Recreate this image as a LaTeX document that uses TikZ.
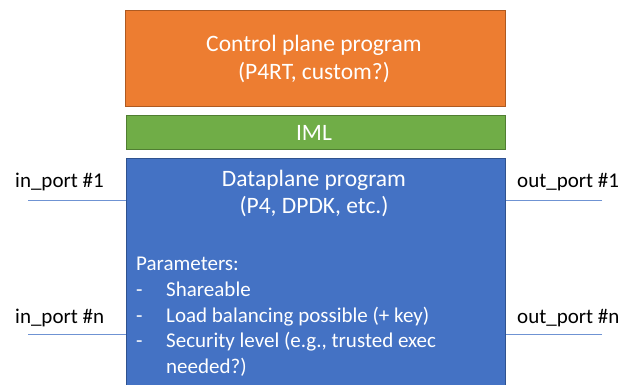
\documentclass[tikz,border=0pt]{standalone}
\usepackage{fontspec}
\setmainfont{Carlito}
\definecolor{orng}{HTML}{ED7D31}
\definecolor{orngd}{HTML}{AE5A21}
\definecolor{grn}{HTML}{70AD47}
\definecolor{grnd}{HTML}{507E32}
\definecolor{blu}{HTML}{4472C4}
\definecolor{blud}{HTML}{2F528F}
\definecolor{portln}{HTML}{6F93D3}
\begin{document}
\begin{tikzpicture}[x=1pt,y=-1pt,
  box/.style={draw, line width=0.8pt, minimum width=#1, inner sep=0pt, anchor=north west},
  wtxt/.style={text=white, font=\fontsize{21}{25}\selectfont, inner sep=0pt},
  ttl/.style={text=white, font=\fontsize{23.5}{27}\selectfont, inner sep=0pt, align=center},
  lbl/.style={text=black, font=\fontsize{21}{25}\selectfont, inner sep=0pt, anchor=base west},
  port/.style={draw=portln, line width=0.8pt}]
\useasboundingbox (0,0) rectangle (634,385);
\begin{scope}
\clip (0,0) rectangle (634,385);
\node[box=380pt, minimum height=96pt, fill=orng, draw=orngd] (cp) at (125,10) {};
\node[box=379pt, minimum height=34pt, fill=grn, draw=grnd] (iml) at (126,115) {};
\node[box=379pt, minimum height=232pt, fill=blu, draw=blud] (dp) at (126,158) {};
\end{scope}
% texts
\node[ttl, anchor=base] (cpt1) at (314,52) {Control plane program};
\node[ttl, anchor=base] (cpt2) at (314,80) {(P4RT, custom?)};
\node[ttl, anchor=base] (imlt) at (314,140) {IML};
\node[ttl, anchor=base] (dpt1) at (314,186) {Dataplane program};
\node[ttl, anchor=base] (dpt2) at (314,213) {(P4, DPDK, etc.)};
\node[wtxt, anchor=base west] (par) at (136,270) {Parameters:};
\node[wtxt, anchor=base west] (d1) at (136,296) {-};
\node[wtxt, anchor=base west] (p1) at (166,296) {Shareable};
\node[wtxt, anchor=base west] (d2) at (136,322) {-};
\node[wtxt, anchor=base west] (p2) at (166,322) {Load balancing possible (+ key)};
\node[wtxt, anchor=base west] (d3) at (136,347) {-};
\node[wtxt, anchor=base west] (p3) at (166,347) {Security level (e.g., trusted exec};
\node[wtxt, anchor=base west] (p4) at (166,373) {needed?)};
% ports
\node[lbl] (in1) at (15,187) {in\_port \#1};
\node[lbl] (inn) at (15,323) {in\_port \#n};
\node[lbl] (out1) at (517,187) {out\_port \#1};
\node[lbl] (outn) at (517,323) {out\_port \#n};
\coordinate (a1) at (28,200);
\coordinate (an) at (28,334.5);
\coordinate (b1) at (602,200);
\coordinate (bn) at (602,334.5);
\draw[port] (a1) -- (a1 -| dp.west);
\draw[port] (an) -- (an -| dp.west);
\draw[port] (b1) -- (b1 -| dp.east);
\draw[port] (bn) -- (bn -| dp.east);
\end{tikzpicture}
\end{document}
